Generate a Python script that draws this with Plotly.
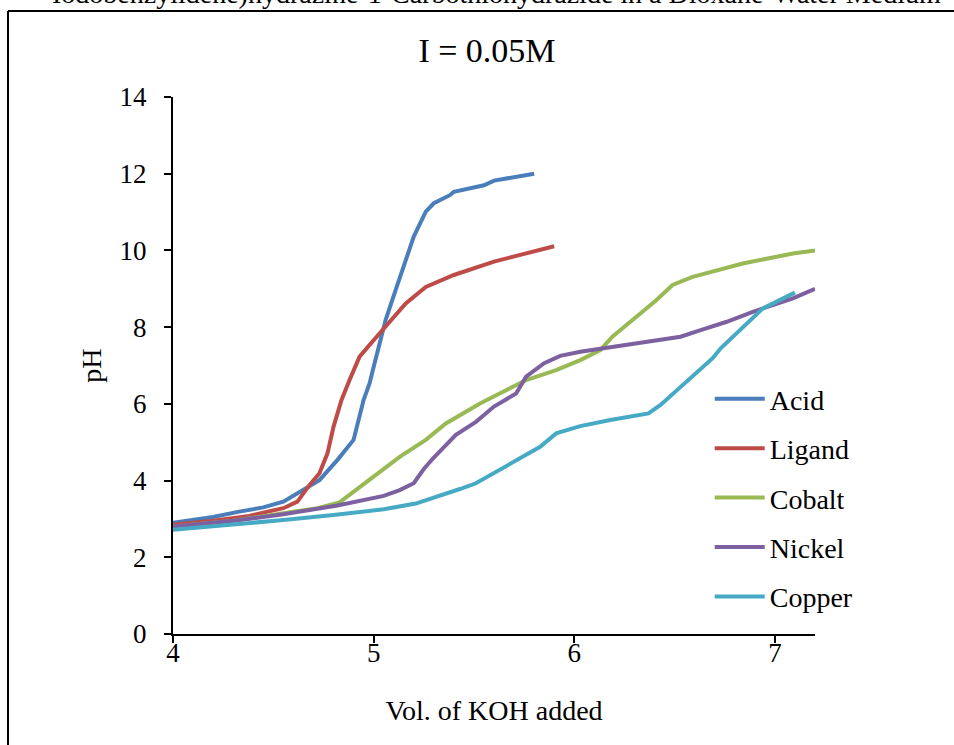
import plotly.graph_objects as go

FONT = "Liberation Serif"

# ---- data ----
acid_x = [4.0, 4.1, 4.2, 4.33, 4.45, 4.55, 4.65, 4.73, 4.82, 4.9, 4.95, 4.98, 5.0, 5.06, 5.11, 5.16, 5.2, 5.26, 5.3, 5.38, 5.4, 5.55, 5.6, 5.8]
acid_y = [2.9, 2.97, 3.05, 3.19, 3.3, 3.45, 3.75, 4.01, 4.54, 5.06, 6.1, 6.54, 6.96, 8.19, 8.97, 9.75, 10.36, 11.01, 11.23, 11.44, 11.53, 11.7, 11.82, 12.0]

ligand_x = [4.0, 4.2, 4.38, 4.55, 4.62, 4.68, 4.73, 4.77, 4.8, 4.84, 4.88, 4.93, 5.0, 5.06, 5.16, 5.26, 5.4, 5.6, 5.9]
ligand_y = [2.85, 2.95, 3.08, 3.28, 3.45, 3.88, 4.19, 4.71, 5.4, 6.1, 6.62, 7.23, 7.66, 8.01, 8.62, 9.05, 9.36, 9.71, 10.11]

cobalt_x = [4.0, 4.3, 4.55, 4.72, 4.83, 5.0, 5.13, 5.26, 5.36, 5.53, 5.76, 5.91, 6.03, 6.13, 6.19, 6.31, 6.41, 6.49, 6.59, 6.84, 7.09, 7.2]
cobalt_y = [2.8, 2.95, 3.15, 3.28, 3.43, 4.1, 4.62, 5.06, 5.49, 6.01, 6.62, 6.88, 7.14, 7.4, 7.75, 8.27, 8.71, 9.1, 9.31, 9.66, 9.92, 10.0]

nickel_x = [4.0, 4.3, 4.55, 4.82, 5.05, 5.13, 5.2, 5.25, 5.3, 5.35, 5.41, 5.51, 5.6, 5.71, 5.76, 5.85, 5.93, 6.03, 6.26, 6.53, 6.63, 6.76, 6.89, 7.09, 7.2]
nickel_y = [2.8, 2.95, 3.12, 3.35, 3.6, 3.75, 3.93, 4.3, 4.6, 4.88, 5.19, 5.53, 5.93, 6.27, 6.71, 7.06, 7.25, 7.36, 7.53, 7.75, 7.92, 8.14, 8.4, 8.75, 9.0]

copper_x = [4.0, 4.3, 4.55, 4.8, 5.05, 5.21, 5.3, 5.38, 5.43, 5.51, 5.63, 5.73, 5.83, 5.91, 6.03, 6.18, 6.37, 6.43, 6.54, 6.69, 6.73, 6.86, 6.94, 7.1]
copper_y = [2.72, 2.85, 2.97, 3.1, 3.25, 3.4, 3.55, 3.7, 3.78, 3.93, 4.28, 4.58, 4.88, 5.23, 5.42, 5.58, 5.75, 5.97, 6.49, 7.19, 7.45, 8.1, 8.49, 8.9]

series_names = ["Acid", "Ligand", "Cobalt", "Nickel", "Copper"]
series_x = [acid_x, ligand_x, cobalt_x, nickel_x, copper_x]
series_y = [acid_y, ligand_y, cobalt_y, nickel_y, copper_y]
colors = ["#4a7ebb", "#be4b48", "#98b954", "#7d60a0", "#46aac5"]

x_range = [4, 7.2]
x_ticks = [4, 5, 6, 7]
y_ticks = [0, 2, 4, 6, 8, 10, 12, 14]

header_text = "Iodobenzylidene)hydrazine-1-Carbothiohydrazide in a Dioxane-Water Medium"
chart_title = "I = 0.05M"

fig = go.Figure()
for name, xs, ys, c in zip(series_names, series_x, series_y, colors):
    fig.add_trace(go.Scatter(x=xs, y=ys, mode="lines", name=name, legendgroup=name,
                             line=dict(color=c, width=4)))
# empty helper trace so the label-only x axis is drawn
fig.add_trace(go.Scatter(x=[], y=[], xaxis="x2", yaxis="y", showlegend=False, hoverinfo="skip"))

fig.update_layout(
    width=954, height=745,
    margin=dict(l=173, r=139, t=97, b=111),
    paper_bgcolor="white", plot_bgcolor="white",
    font=dict(family=FONT, color="black", size=26),
    title=dict(text=chart_title, x=487/954, xanchor="center", xref="container",
               y=1 - 50/745, yanchor="middle", yref="container",
               font=dict(family=FONT, size=34, color="black")),
    legend=dict(x=0.836, xanchor="left", y=0.484, yanchor="top",
                font=dict(family=FONT, size=28, color="black"),
                tracegroupgap=10, itemwidth=50, bgcolor="rgba(0,0,0,0)"),
    showlegend=True,
    xaxis=dict(range=x_range, tickvals=x_ticks, showticklabels=False,
               showline=True, linecolor="black", linewidth=2,
               ticks="outside", ticklen=7, tickwidth=1.5, tickcolor="black",
               showgrid=False, zeroline=False,
               title=dict(text="Vol. of KOH added", font=dict(family=FONT, size=28), standoff=58)),
    xaxis2=dict(range=x_range, overlaying="x", anchor="y", side="bottom",
                tickvals=x_ticks, ticktext=[str(v) for v in x_ticks],
                showline=False, ticks="", showgrid=False, zeroline=False,
                tickfont=dict(family=FONT, size=27, color="black")),
    yaxis=dict(range=[0, 14], tickvals=y_ticks, ticktext=[str(v) for v in y_ticks],
               showline=True, linecolor="black", linewidth=2,
               ticks="outside", ticklen=7, tickwidth=1.5, tickcolor="black",
               showgrid=False, zeroline=False, ticklabelstandoff=12,
               tickfont=dict(family=FONT, size=27, color="black"),
               title=dict(text="pH", font=dict(family=FONT, size=28), standoff=10)),
)

# cropped header text at the very top of the image
fig.add_annotation(text=header_text, xref="paper", yref="paper",
                   x=(497 - 173) / 642, y=(634 + 6) / 537, xanchor="center", yanchor="middle",
                   showarrow=False, font=dict(family=FONT, size=28, color="black"))

# outer frame (top and left edges visible)
fig.add_shape(type="line", xref="paper", yref="paper",
              x0=(8 - 173) / 642, x1=(970 - 173) / 642, y0=(634 - 11) / 537, y1=(634 - 11) / 537,
              line=dict(color="black", width=2))
fig.add_shape(type="line", xref="paper", yref="paper",
              x0=(8 - 173) / 642, x1=(8 - 173) / 642, y0=(634 - 11) / 537, y1=(634 - 760) / 537,
              line=dict(color="black", width=2))

fig.write_html("out.html")
